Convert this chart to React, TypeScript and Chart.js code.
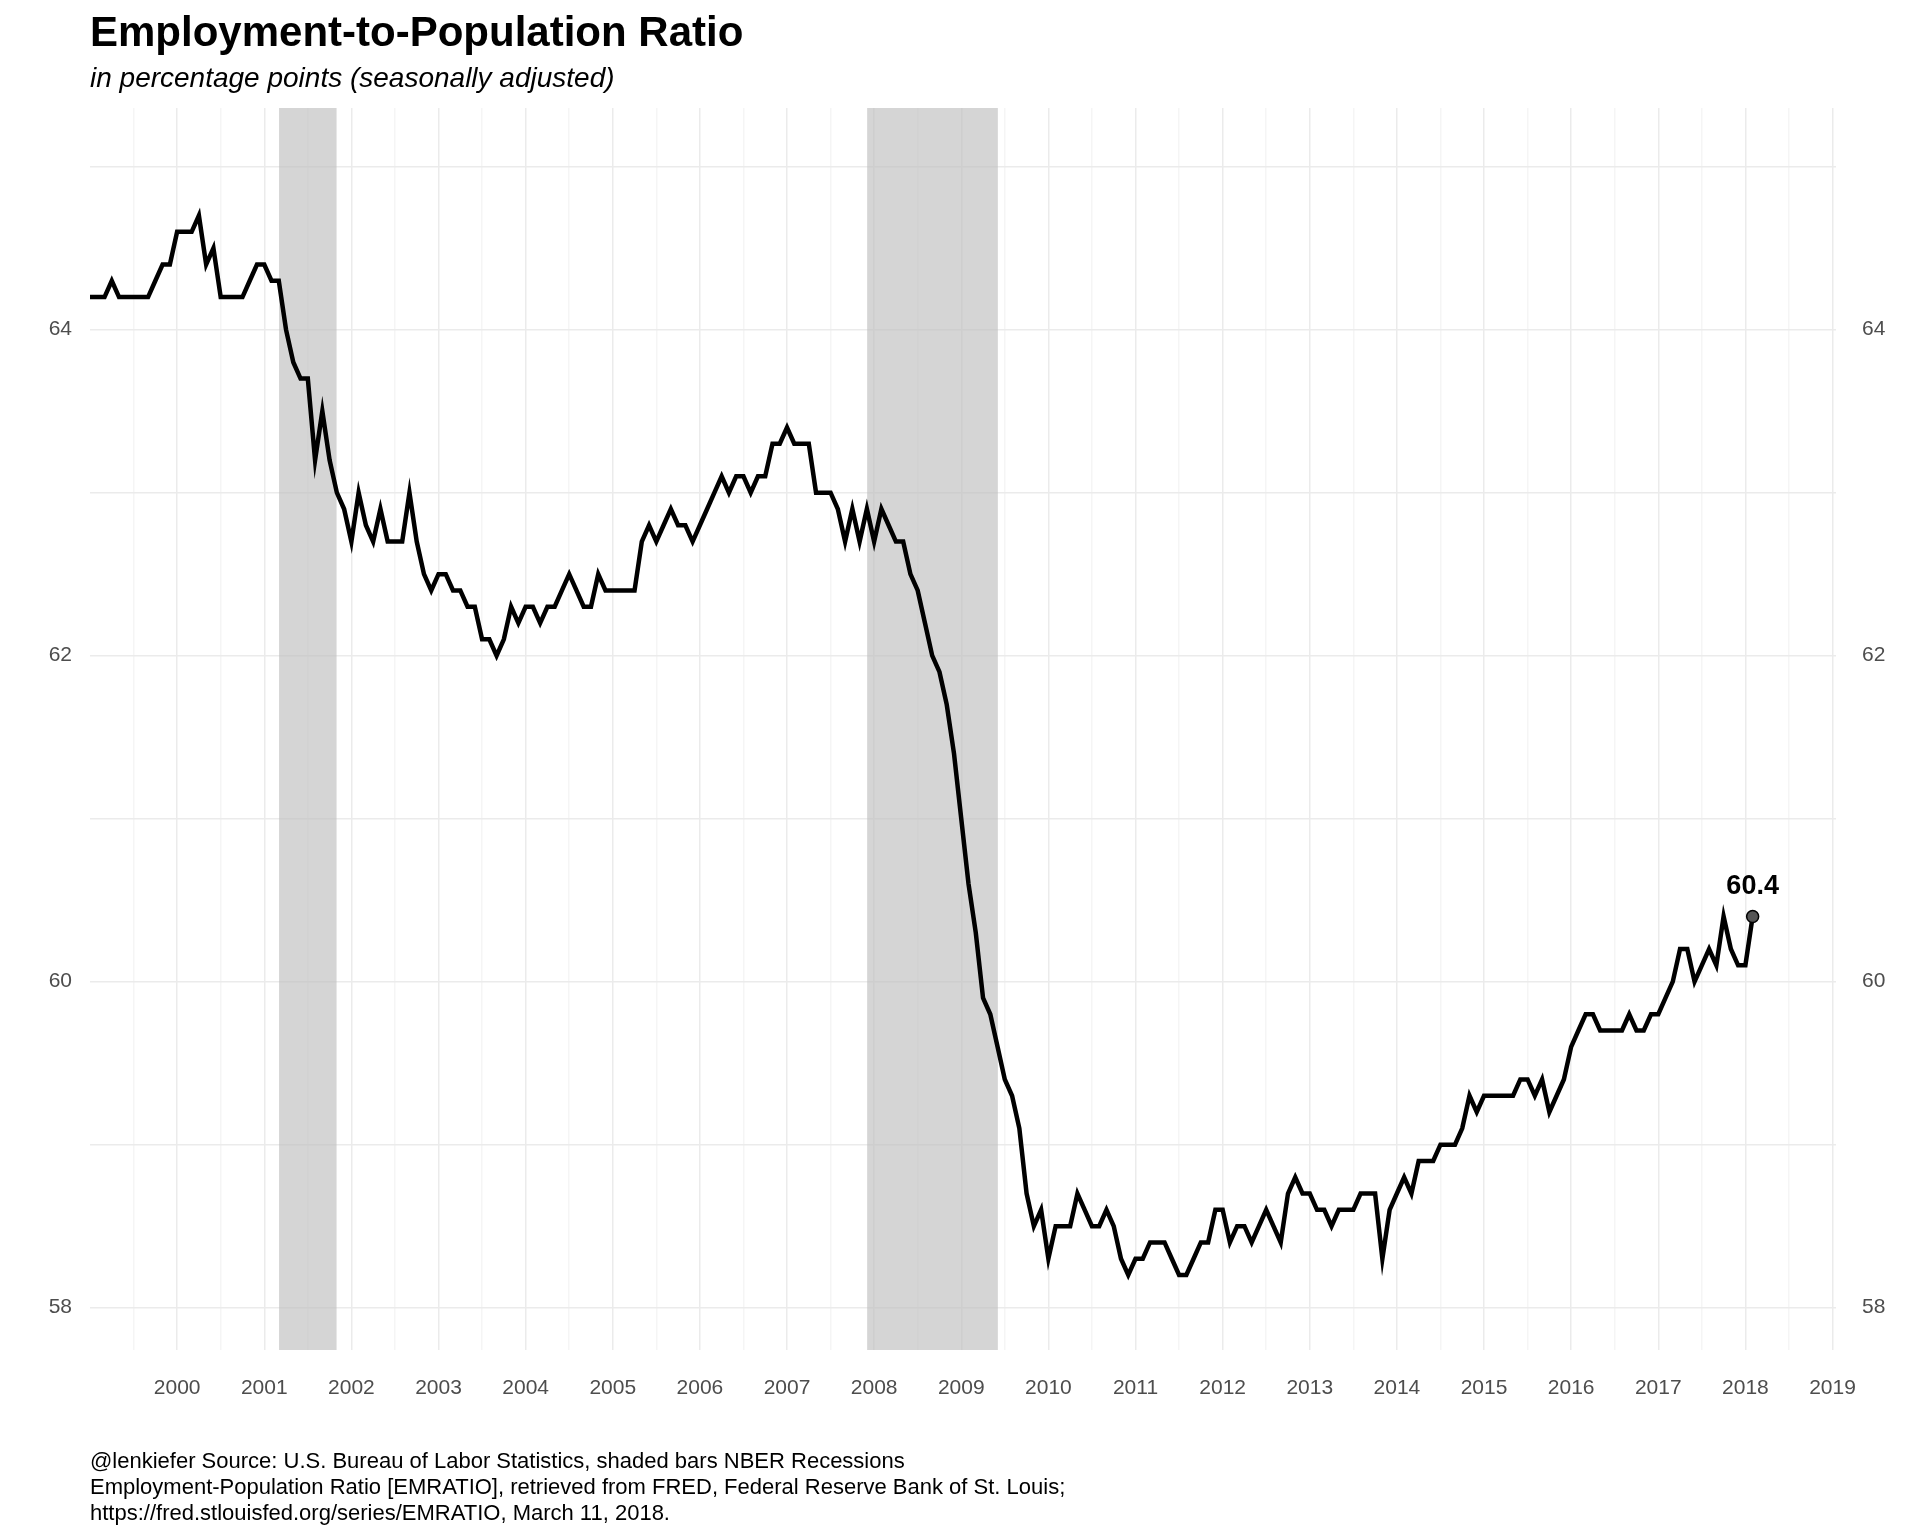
import { useEffect, useRef } from "react";
import { Chart, registerables } from "chart.js";

Chart.register(...registerables);

const startYear = 1999;
const ratio: number[] = [
  // 1999
  64.2, 64.2, 64.2, 64.3, 64.2, 64.2, 64.2, 64.2, 64.2, 64.3, 64.4, 64.4,
  // 2000
  64.6, 64.6, 64.6, 64.7, 64.4, 64.5, 64.2, 64.2, 64.2, 64.2, 64.3, 64.4,
  // 2001
  64.4, 64.3, 64.3, 64.0, 63.8, 63.7, 63.7, 63.2, 63.5, 63.2, 63.0, 62.9,
  // 2002
  62.7, 63.0, 62.8, 62.7, 62.9, 62.7, 62.7, 62.7, 63.0, 62.7, 62.5, 62.4,
  // 2003
  62.5, 62.5, 62.4, 62.4, 62.3, 62.3, 62.1, 62.1, 62.0, 62.1, 62.3, 62.2,
  // 2004
  62.3, 62.3, 62.2, 62.3, 62.3, 62.4, 62.5, 62.4, 62.3, 62.3, 62.5, 62.4,
  // 2005
  62.4, 62.4, 62.4, 62.4, 62.7, 62.8, 62.7, 62.8, 62.9, 62.8, 62.8, 62.7,
  // 2006
  62.8, 62.9, 63.0, 63.1, 63.0, 63.1, 63.1, 63.0, 63.1, 63.1, 63.3, 63.3,
  // 2007
  63.4, 63.3, 63.3, 63.3, 63.0, 63.0, 63.0, 62.9, 62.7, 62.9, 62.7, 62.9,
  // 2008
  62.7, 62.9, 62.8, 62.7, 62.7, 62.5, 62.4, 62.2, 62.0, 61.9, 61.7, 61.4,
  // 2009
  61.0, 60.6, 60.3, 59.9, 59.8, 59.6, 59.4, 59.3, 59.1, 58.7, 58.5, 58.6,
  // 2010
  58.3, 58.5, 58.5, 58.5, 58.7, 58.6, 58.5, 58.5, 58.6, 58.5, 58.3, 58.2,
  // 2011
  58.3, 58.3, 58.4, 58.4, 58.4, 58.3, 58.2, 58.2, 58.3, 58.4, 58.4, 58.6,
  // 2012
  58.6, 58.4, 58.5, 58.5, 58.4, 58.5, 58.6, 58.5, 58.4, 58.7, 58.8, 58.7,
  // 2013
  58.7, 58.6, 58.6, 58.5, 58.6, 58.6, 58.6, 58.7, 58.7, 58.7, 58.3, 58.6,
  // 2014
  58.7, 58.8, 58.7, 58.9, 58.9, 58.9, 59.0, 59.0, 59.0, 59.1, 59.3, 59.2,
  // 2015
  59.3, 59.3, 59.3, 59.3, 59.3, 59.4, 59.4, 59.3, 59.4, 59.2, 59.3, 59.4,
  // 2016
  59.6, 59.7, 59.8, 59.8, 59.7, 59.7, 59.7, 59.7, 59.8, 59.7, 59.7, 59.8,
  // 2017
  59.8, 59.9, 60.0, 60.2, 60.2, 60.0, 60.1, 60.2, 60.1, 60.4, 60.2, 60.1,
  // 2018
  60.1, 60.4,
];

// recession start / end as decimal years
const recessionStarts = [2001.17, 2007.92];
const recessionEnds = [2001.83, 2009.42];

const points = ratio.map((v, i) => ({ x: startYear + i / 12, y: v }));

const recessionPlugin = {
  id: "recessions",
  beforeDatasetsDraw(chart: any) {
    const { ctx, chartArea, scales } = chart;
    ctx.save();
    ctx.fillStyle = "rgba(190,190,190,0.65)";
    recessionStarts.forEach((s, i) => {
      const x0 = scales.x.getPixelForValue(s);
      const x1 = scales.x.getPixelForValue(recessionEnds[i]);
      ctx.fillRect(x0, chartArea.top, x1 - x0, chartArea.bottom - chartArea.top);
    });
    ctx.restore();
  },
};

const lastLabelPlugin = {
  id: "lastLabel",
  afterDatasetsDraw(chart: any) {
    const { ctx, scales } = chart;
    const last = points[points.length - 1];
    const x = scales.x.getPixelForValue(last.x);
    const y = scales.y.getPixelForValue(last.y);
    ctx.save();
    ctx.font = "bold 27px 'Liberation Sans', Arial, sans-serif";
    ctx.fillStyle = "#000";
    ctx.textAlign = "center";
    ctx.textBaseline = "bottom";
    ctx.fillText(last.y.toFixed(1), x, y - 16);
    ctx.restore();
  },
};

const gridColor = (ctx: any) => {
  const v = ctx.tick?.value;
  if (v === undefined) return "transparent";
  return Math.abs(v - Math.round(v)) < 1e-6 ? "#ebebeb" : "#f5f5f5";
};

export default function App() {
  const canvasRef = useRef<HTMLCanvasElement>(null);

  useEffect(() => {
    if (!canvasRef.current) return;
    const tickFont = { family: "'Liberation Sans', Arial, sans-serif", size: 21 };
    const chart = new Chart(canvasRef.current, {
      type: "line",
      data: {
        datasets: [
          {
            data: points,
            borderColor: "#000",
            borderWidth: 4.5,
            pointRadius: points.map((_, i) => (i === points.length - 1 ? 6 : 0)),
            pointBackgroundColor: "#555",
            pointBorderColor: "#000",
            pointBorderWidth: 1.5,
            tension: 0,
            yAxisID: "y",
          },
        ],
      },
      options: {
        animation: false,
        responsive: false,
        layout: { padding: { top: 108, bottom: 126, left: 0, right: 0 } },
        plugins: { legend: { display: false }, tooltip: { enabled: false } },
        scales: {
          x: {
            type: "linear",
            min: 1999,
            max: 2019.04,
            afterFit: (s: any) => { s.height = 60; },
            afterBuildTicks: (s: any) => {
              const t = [];
              for (let v = 1999.5; v <= 2019.01; v += 0.5) t.push({ value: v });
              s.ticks = t;
            },
            ticks: {
              autoSkip: false,
              maxRotation: 0,
              color: "#4d4d4d",
              font: tickFont,
              padding: 26,
              callback: (v: any) => (Number.isInteger(v) ? String(v) : ""),
            },
            grid: { color: gridColor, lineWidth: 1.5, drawTicks: false },
            border: { display: false },
          },
          y: {
            position: "left",
            min: 57.74,
            max: 65.36,
            afterFit: (s: any) => { s.width = 90; },
            afterBuildTicks: (s: any) => {
              s.ticks = [58, 59, 60, 61, 62, 63, 64, 65].map((v) => ({ value: v }));
            },
            ticks: {
              color: "#4d4d4d",
              font: tickFont,
              padding: 18,
              callback: (v: any) => (v % 2 === 0 ? String(v) : ""),
            },
            grid: { color: gridColor, lineWidth: 1.5, drawTicks: false },
            border: { display: false },
          },
          y2: {
            position: "right",
            min: 57.74,
            max: 65.36,
            afterFit: (s: any) => { s.width = 84; },
            afterBuildTicks: (s: any) => {
              s.ticks = [58, 60, 62, 64].map((v) => ({ value: v }));
            },
            ticks: { color: "#4d4d4d", font: tickFont, padding: 18 },
            grid: { display: false },
            border: { display: false },
          },
        },
      },
      plugins: [recessionPlugin, lastLabelPlugin],
    } as any);
    return () => chart.destroy();
  }, []);

  const font = "'Liberation Sans', Arial, sans-serif";
  return (
    <div style={{ position: "absolute", left: 0, top: 0, width: 1920, height: 1536, background: "#fff", fontFamily: font }}>
      <canvas ref={canvasRef} width={1920} height={1536} style={{ position: "absolute", left: 0, top: 0 }} />
      <div style={{ position: "absolute", left: 90, top: 8, fontSize: 42, fontWeight: "bold", color: "#000" }}>
        Employment-to-Population Ratio
      </div>
      <div style={{ position: "absolute", left: 90, top: 62, fontSize: 28, fontStyle: "italic", color: "#000" }}>
        in percentage points (seasonally adjusted)
      </div>
      <div style={{ position: "absolute", left: 90, top: 1448, fontSize: 22, lineHeight: "26px", color: "#000" }}>
        @lenkiefer Source: U.S. Bureau of Labor Statistics, shaded bars NBER Recessions
        <br />
        Employment-Population Ratio [EMRATIO], retrieved from FRED, Federal Reserve Bank of St. Louis;
        <br />
        https://fred.stlouisfed.org/series/EMRATIO, March 11, 2018.
      </div>
    </div>
  );
}
